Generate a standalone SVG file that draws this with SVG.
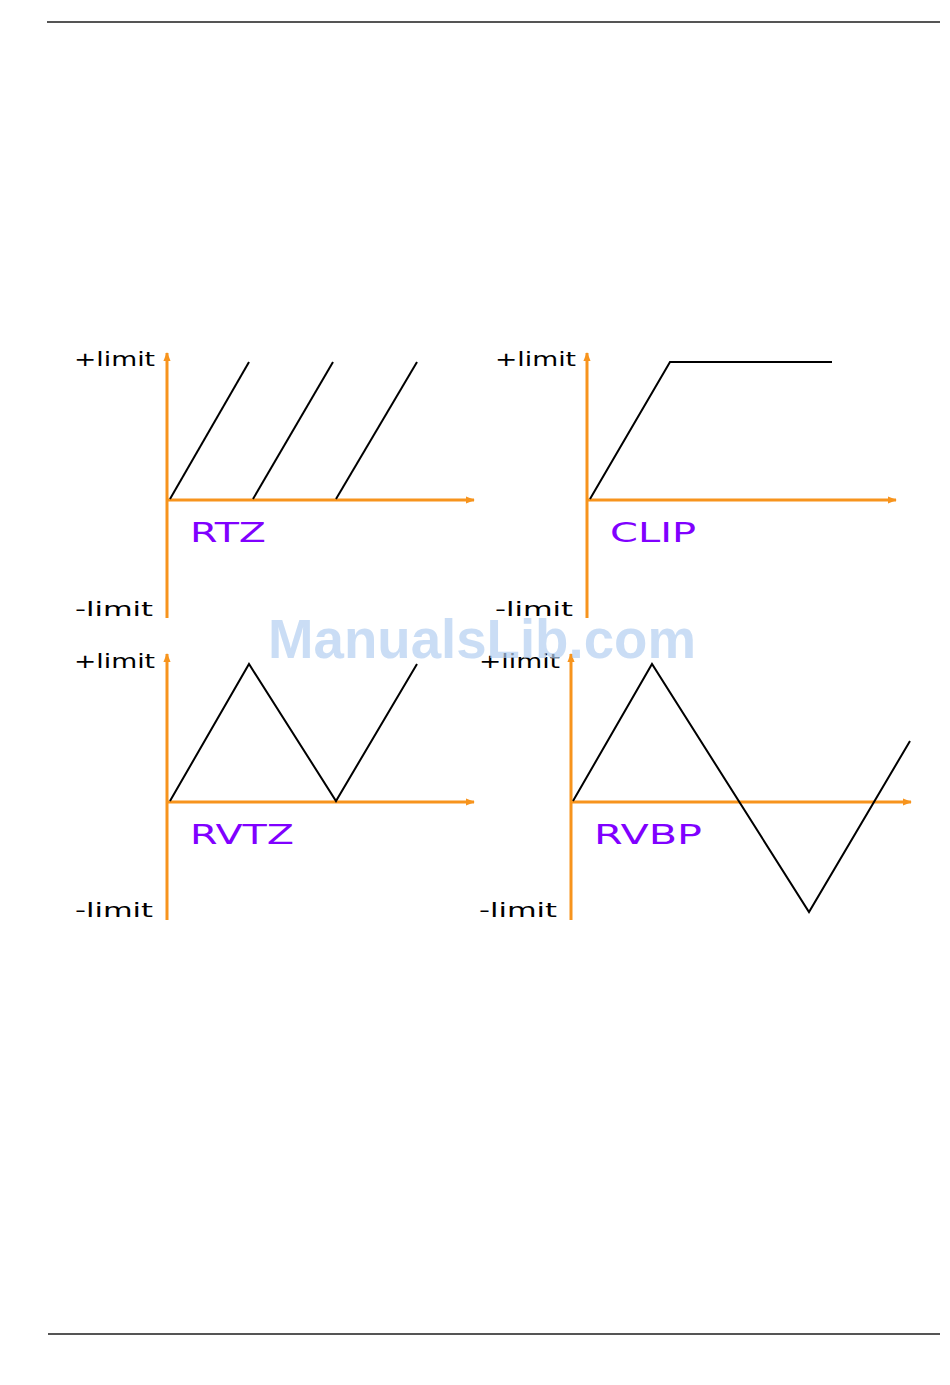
<svg xmlns="http://www.w3.org/2000/svg" width="950" height="1385" viewBox="0 0 950 1385">
<style>
.rule{stroke:#555;stroke-width:2;fill:none}
.axis{stroke:#f7941d;stroke-width:3;fill:none}
.wave{stroke:#000;stroke-width:2;fill:none;stroke-linejoin:miter}
.lim{font-family:"DejaVu Sans","Liberation Sans",sans-serif;font-size:19px;fill:#000}
.mode{font-family:"DejaVu Sans","Liberation Sans",sans-serif;font-size:27px;fill:#8000ff}
.wm{font-family:"Liberation Sans",Arial,sans-serif;font-weight:bold;font-size:56px;fill:#b4d0f2;opacity:0.7}
</style>
<defs>
<marker id="ah" viewBox="0 0 10 10" refX="9" refY="5" markerWidth="3" markerHeight="3" orient="auto" markerUnits="strokeWidth">
<path d="M0,1 L10,5 L0,9 Z" fill="#f7941d"/>
</marker>
</defs>
<line class="rule" x1="47" y1="22" x2="940" y2="22"/>
<line class="rule" x1="48" y1="1334" x2="940" y2="1334"/>

<g id="connectors">
<line class="axis" x1="167" y1="618" x2="167" y2="353" marker-end="url(#ah)"/>
<line class="axis" x1="167" y1="500" x2="474" y2="500" marker-end="url(#ah)"/>
<line class="axis" x1="587" y1="618" x2="587" y2="353" marker-end="url(#ah)"/>
<line class="axis" x1="587" y1="500" x2="896" y2="500" marker-end="url(#ah)"/>
<line class="axis" x1="167" y1="920" x2="167" y2="654" marker-end="url(#ah)"/>
<line class="axis" x1="167" y1="802" x2="474" y2="802" marker-end="url(#ah)"/>
<line class="axis" x1="571" y1="920" x2="571" y2="654" marker-end="url(#ah)"/>
<line class="axis" x1="571" y1="802" x2="911" y2="802" marker-end="url(#ah)"/>
</g>

<g id="rtz">
<polyline class="wave" points="170,499 249,362"/>
<polyline class="wave" points="253,499 333,362"/>
<polyline class="wave" points="336,499 417,362"/>
<text class="lim" x="74" y="366" textLength="81" lengthAdjust="spacingAndGlyphs">+limit</text>
<text class="lim" x="75" y="616" textLength="78" lengthAdjust="spacingAndGlyphs">-limit</text>
<text class="mode" x="190" y="542" textLength="76" lengthAdjust="spacingAndGlyphs">RTZ</text>
</g>

<g id="clip">
<polyline class="wave" points="590,499 670,362 832,362"/>
<text class="lim" x="495" y="366" textLength="81" lengthAdjust="spacingAndGlyphs">+limit</text>
<text class="lim" x="495" y="616" textLength="78" lengthAdjust="spacingAndGlyphs">-limit</text>
<text class="mode" x="610" y="542" textLength="86" lengthAdjust="spacingAndGlyphs">CLIP</text>
</g>

<g id="rvtz">
<polyline class="wave" points="170,801 249,664 336,801 417,664"/>
<text class="lim" x="74" y="668" textLength="81" lengthAdjust="spacingAndGlyphs">+limit</text>
<text class="lim" x="75" y="917" textLength="78" lengthAdjust="spacingAndGlyphs">-limit</text>
<text class="mode" x="190" y="844" textLength="104" lengthAdjust="spacingAndGlyphs">RVTZ</text>
</g>

<g id="rvbp">
<polyline class="wave" points="573,801 652,664 809,912 910,741"/>
<text class="lim" x="479" y="668" textLength="81" lengthAdjust="spacingAndGlyphs">+limit</text>
<text class="lim" x="479" y="917" textLength="78" lengthAdjust="spacingAndGlyphs">-limit</text>
<text class="mode" x="594" y="844" textLength="108" lengthAdjust="spacingAndGlyphs">RVBP</text>
</g>

<text class="wm" x="268" y="658" textLength="428" lengthAdjust="spacingAndGlyphs">ManualsLib.com</text>
</svg>
